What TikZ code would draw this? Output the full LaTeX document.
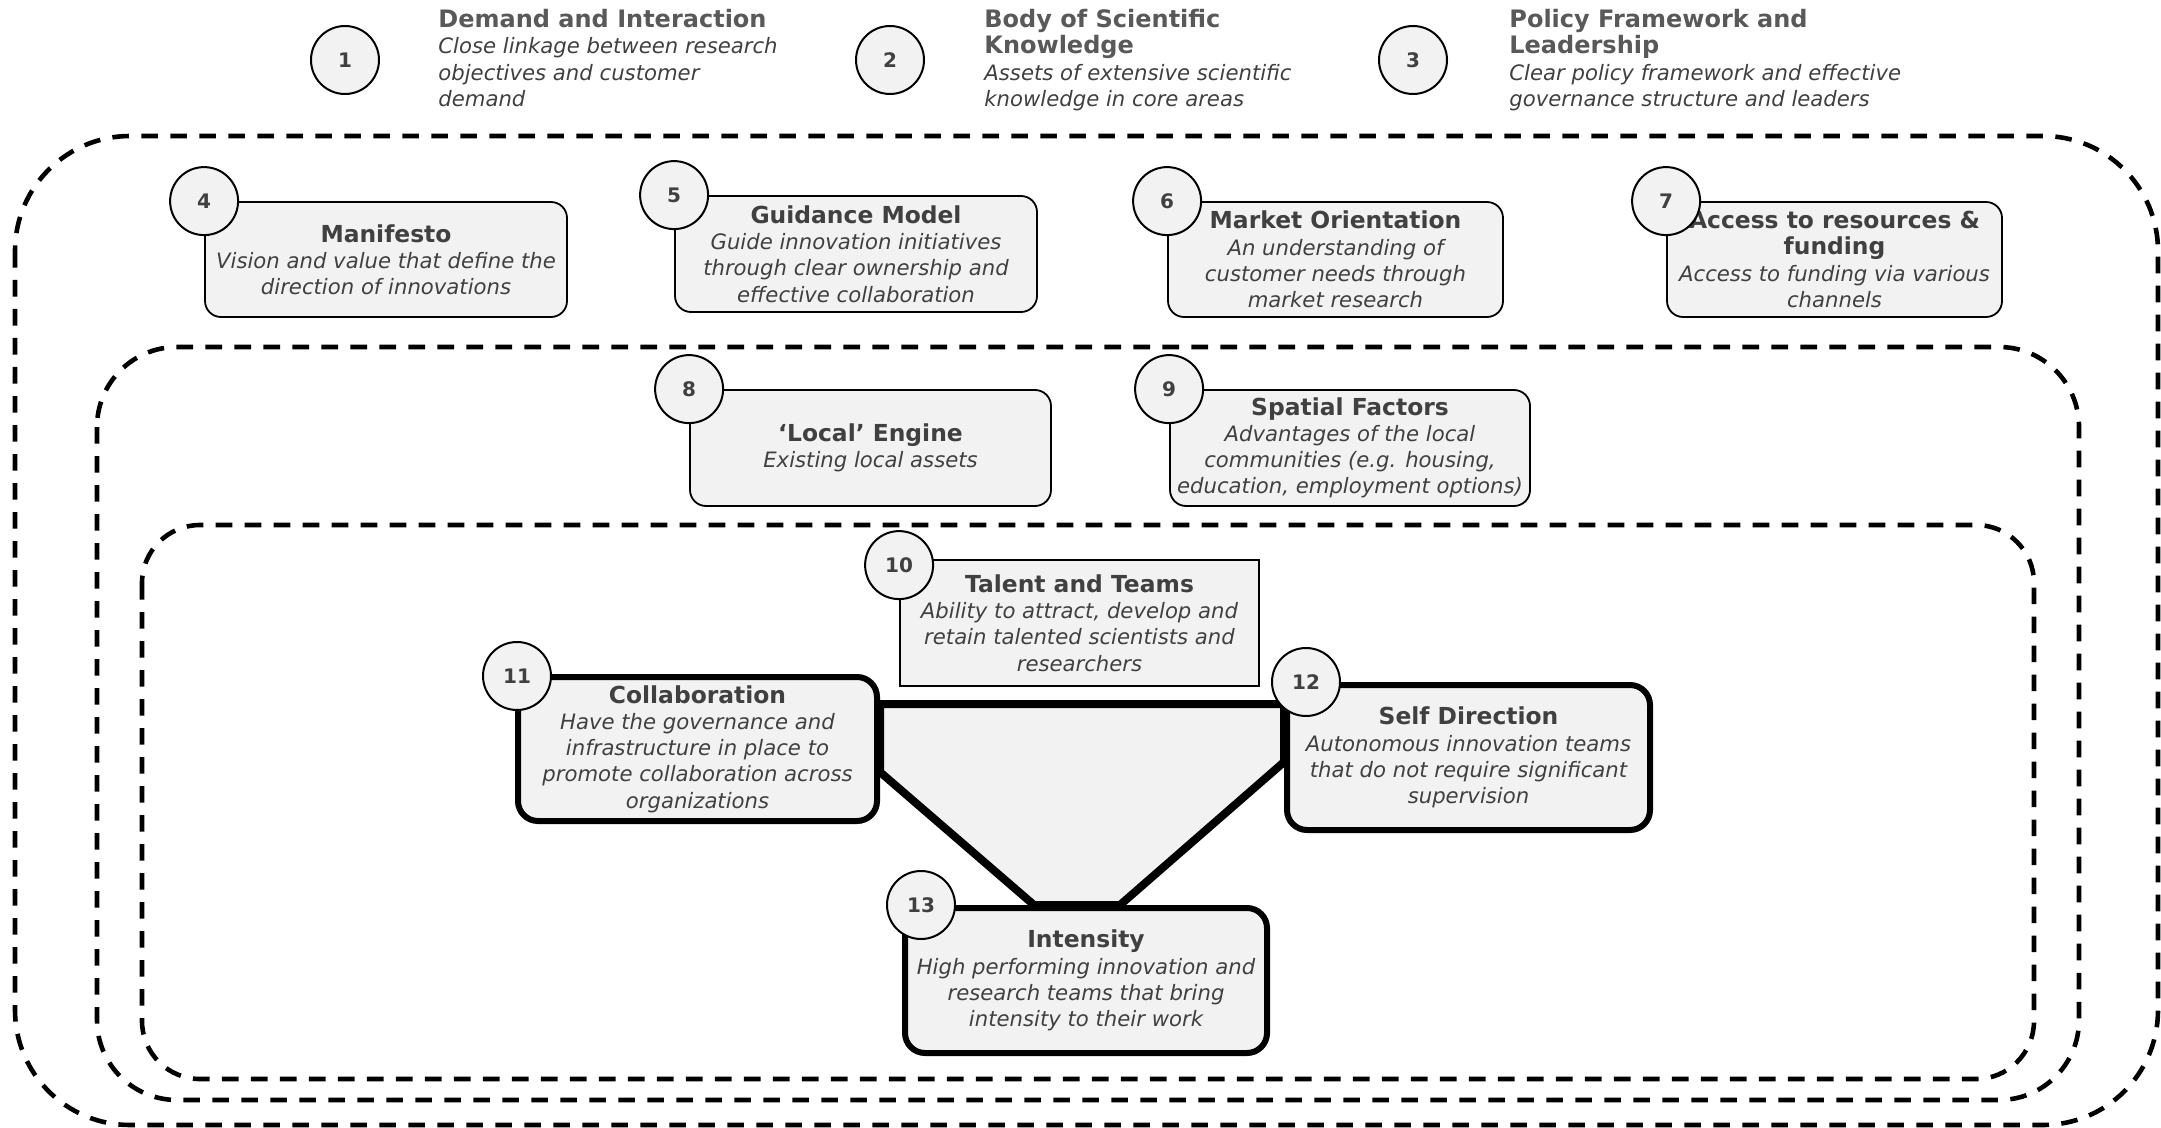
\documentclass[tikz,border=0pt]{standalone}
\usepackage{fontspec}
\setmainfont{DejaVu Sans}
\usetikzlibrary{positioning,calc,backgrounds}
\definecolor{boxfill}{HTML}{F2F2F2}
\definecolor{txtgray}{HTML}{404040}
\definecolor{headgray}{HTML}{595959}
\newcommand{\fhead}[1]{\textup{\fontsize{11.7}{13.1}\selectfont\bfseries #1}}
\newcommand{\ftop}[1]{\textup{\fontsize{12}{13.1}\selectfont\bfseries\color{headgray}#1}}
\begin{document}
\begin{tikzpicture}[x=0.5pt,y=-0.5pt,
  font=\fontsize{10.6}{13.1}\selectfont, text=txtgray,
  zone/.style={dash pattern=on 8.3pt off 6.2pt, line width=2.3pt},
  numcirc/.style={circle, draw, fill=boxfill, line width=1pt, minimum size=34pt, inner sep=0pt, font=\fontsize{10}{12}\selectfont\bfseries},
  factor/.style={draw, fill=boxfill, rounded corners=8pt, line width=0.9pt, align=center, inner sep=0pt, font=\fontsize{10.6}{13.1}\selectfont\itshape},
  corebox/.style={factor, rounded corners=10pt, line width=3pt},
  toptext/.style={anchor=north west, align=left, inner sep=0pt, font=\fontsize{10.6}{13.1}\selectfont\itshape}]
\useasboundingbox (0,0) rectangle (2161,1128);

\draw[zone, rounded corners=57.5pt] (15,136) rectangle (2158,1125);
\draw[zone, rounded corners=40pt] (97,347) rectangle (2079,1100);
\draw[zone, rounded corners=29pt] (142,525) rectangle (2034,1079);

\node[numcirc] (c1) at (345,60) {1};
\node[numcirc] (c2) at (890,60) {2};
\node[numcirc] (c3) at (1413,60) {3};
\node[toptext] (demand) at ($(c1.east)+(58,-51)$) {\ftop{Demand and Interaction}\\Close linkage between research\\objectives and customer\\demand};
\node[toptext] (body) at ($(c2.east)+(59,-51)$) {\ftop{Body of Scientific}\\\ftop{Knowledge}\\Assets of extensive scientific\\knowledge in core areas};
\node[toptext] (policy) at ($(c3.east)+(61,-51)$) {\ftop{Policy Framework and}\\\ftop{Leadership}\\Clear policy framework and effective\\governance structure and leaders};

\node[factor, minimum width=181pt, minimum height=57.5pt] (manifesto) at (386,259.5) {\fhead{Manifesto}\\Vision and value that define the\\direction of innovations};
\node[factor, minimum width=181pt, minimum height=58pt] (guidance) at (856,254) {\fhead{Guidance Model}\\Guide innovation initiatives\\through clear ownership and\\effective collaboration};
\node[factor, minimum width=167.5pt, minimum height=57.5pt] (market) at (1335.5,259.5) {\fhead{Market Orientation}\\An understanding of\\customer needs through\\market research};
\node[factor, minimum width=167.5pt, minimum height=57.5pt] (access) at (1834.5,259.5) {\fhead{Access to resources \&}\\\fhead{funding}\\Access to funding via various\\channels};

\node[factor, minimum width=180.5pt, minimum height=58pt] (local) at (870.5,448) {\fhead{‘Local’ Engine}\\Existing local assets};
\node[factor, minimum width=180pt, minimum height=58pt] (spatial) at (1350,448) {\fhead{Spatial Factors}\\Advantages of the local\\communities (e.g. housing,\\education, employment options)};

\node[factor, rounded corners=0pt, minimum width=179.5pt, minimum height=63pt] (talent) at (1079.5,623) {\fhead{Talent and Teams}\\Ability to attract, develop and\\retain talented scientists and\\researchers};
\node[corebox, minimum width=179.5pt, minimum height=72pt] (collab) at (697.5,749) {\fhead{Collaboration}\\Have the governance and\\infrastructure in place to\\promote collaboration across\\organizations};
\node[corebox, minimum width=181.5pt, minimum height=72.5pt] (selfdir) at (1468.5,757.5) {\fhead{Self Direction}\\Autonomous innovation teams\\that do not require significant\\supervision};
\node[corebox, minimum width=181pt, minimum height=72.5pt] (intensity) at (1086,980.5) {\fhead{Intensity}\\High performing innovation and\\research teams that bring\\intensity to their work};

\begin{scope}[on background layer]
\filldraw[fill=boxfill, line width=4pt, line join=round] ($(collab.north east)+(0,30)$) -- ($(selfdir.north west)+(0,22)$) -- ($(selfdir.north west)+(0,80)$) -- ($(intensity.north)+(34,0)$) -- ($(intensity.north)+(-52,0)$) -- ($(collab.north east)+(0,98)$) -- cycle;
\end{scope}

\node[numcirc] (c4) at (manifesto.north west) {4};
\node[numcirc] (c5) at (guidance.north west) {5};
\node[numcirc] (c6) at (market.north west) {6};
\node[numcirc] (c7) at (access.north west) {7};
\node[numcirc] (c8) at (local.north west) {8};
\node[numcirc] (c9) at (spatial.north west) {9};
\node[numcirc] (c10) at ([yshift=-3pt]talent.north west) {10};
\node[numcirc] (c11) at ([xshift=1pt,yshift=-1pt]collab.north west) {11};
\node[numcirc] (c12) at ([xshift=11pt]selfdir.north west) {12};
\node[numcirc] (c13) at ([xshift=9.5pt]intensity.north west) {13};
\end{tikzpicture}
\end{document}
